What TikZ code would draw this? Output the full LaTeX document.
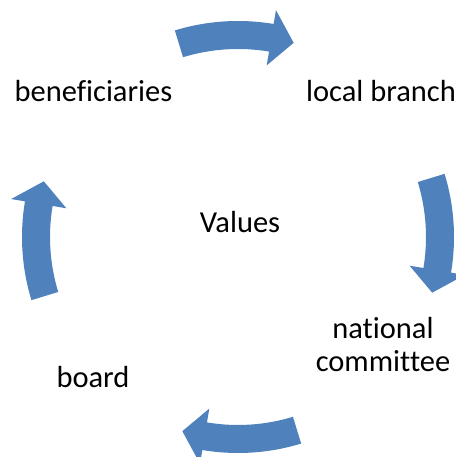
\documentclass[tikz,border=0pt]{standalone}
\usepackage{fontspec}
\setmainfont{Carlito}[RawFeature={-liga;-clig;-dlig;-calt}]
\usepackage{xcolor}
\usepackage{tikz}
\definecolor{CycleBlue}{RGB}{79,129,189}

\begin{document}
\begin{tikzpicture}[x=1pt,y=1pt,
  label/.style={font=\fontsize{30.5}{33}\selectfont, inner sep=0pt, anchor=base, align=center}]
\useasboundingbox (0,0) rectangle (455,457);
\coordinate (centre) at (238,220);

% Arrows
\foreach \c [evaluate=\c as \t using \c+17,
             evaluate=\c as \b using \c-9.5,
             evaluate=\c as \p using \c-16] in {90,0,-90,-180}
  \fill[CycleBlue] ([shift={(\t:216)}]centre)
    arc[start angle=\t, end angle=\b, radius=216]
    -- ([shift={(\b:230)}]centre) -- ([shift={(\p:202)}]centre)
    -- ([shift={(\b:174)}]centre) -- ([shift={(\b:188)}]centre)
    arc[start angle=\b, end angle=\t, radius=188] -- cycle;

% Labels
\node[label] (values) at (240,224) {Values};
\node[label] (benef) at (93.5,355) {beneficiaries};
\node[label] (branch) at (381,355) {local branch};
\node[label] (committee) at (383,85) {national\\committee};
\node[label] (board) at (93,69) {board};

\end{tikzpicture}
\end{document}
